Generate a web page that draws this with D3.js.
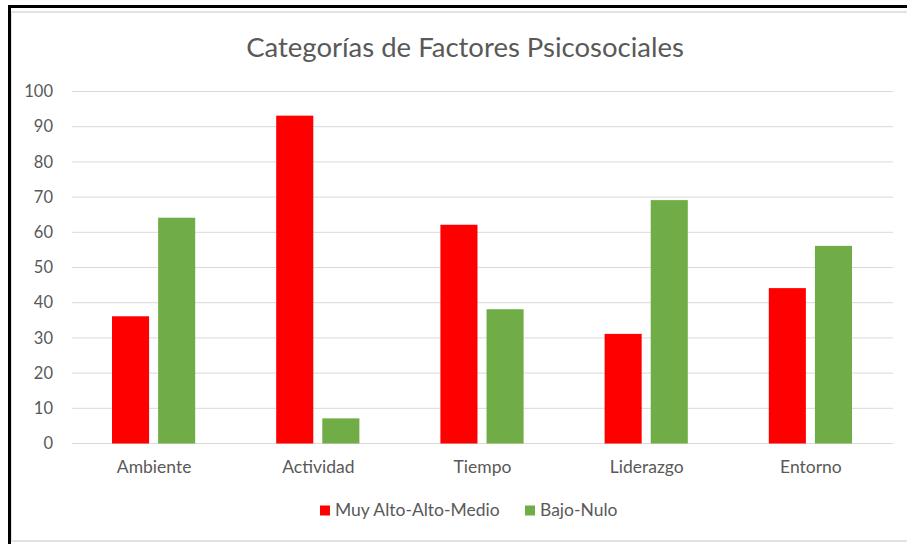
<!DOCTYPE html>
<html><head><meta charset="utf-8">
<script src="https://cdn.jsdelivr.net/npm/d3@7"></script>
<style>body{margin:0;background:#fff}svg{display:block}</style>
</head><body>
<svg id="c" width="907" height="544"></svg>
<script>
const categories = ["Ambiente","Actividad","Tiempo","Liderazgo","Entorno"];
const seriesNames = ["Muy Alto-Alto-Medio","Bajo-Nulo"];
const muyAlto = [36,93,62,31,44];
const bajoNulo = [64,7,38,69,56];
const yTicks = [0,10,20,30,40,50,60,70,80,90,100];
const colors = ["#FF0000","#70AD47"];
const title = "Categorías de Factores Psicosociales";

(function(){
const svg = d3.select("#c");
const font = "Lato, 'Open Sans', sans-serif";
const fs = 16.5, fs2 = 17.5;
// frame
svg.append("rect").attr("x",11).attr("y",12).attr("width",905).attr("height",529)
  .attr("fill","#fff").attr("stroke","#d9d9d9").attr("stroke-width",1.5);
svg.append("line").attr("x1",8).attr("x2",907).attr("y1",6.5).attr("y2",6.5).attr("stroke","#000").attr("stroke-width",3);
svg.append("line").attr("x1",9.5).attr("x2",9.5).attr("y1",5).attr("y2",544).attr("stroke","#000").attr("stroke-width",3);

const pLeft=72, pRight=893, pTop=91, pBottom=443;
const x = d3.scaleBand().domain(categories).range([pLeft,pRight]).paddingInner(0).paddingOuter(0);
const y = d3.scaleLinear().domain([0,100]).range([pBottom,pTop]);

// grid
svg.append("g").selectAll("line").data(yTicks).join("line")
  .attr("x1",pLeft).attr("x2",pRight).attr("y1",d=>y(d)+0.5).attr("y2",d=>y(d)+0.5)
  .attr("stroke","#d9d9d9").attr("stroke-width",1);

// y axis labels
const yAxis = d3.axisLeft(y).tickValues(yTicks).tickSize(0).tickPadding(0);
const gy = svg.append("g").attr("transform",`translate(53,0)`).call(yAxis);
gy.select(".domain").remove();
gy.selectAll("text").attr("font-family",font).attr("font-size",fs).attr("fill","#595959").attr("dy","0.35em");

// x axis labels
const xAxis = d3.axisBottom(x).tickSize(0).tickPadding(0);
const gx = svg.append("g").attr("transform",`translate(0,473)`).call(xAxis);
gx.select(".domain").remove();
gx.selectAll("text").attr("font-family",font).attr("font-size",fs2).attr("fill","#595959").attr("dy","0");

// bars
const x1 = d3.scaleBand().domain(seriesNames).range([40, x.bandwidth()-41]).paddingInner(0.196);
const series=[muyAlto,bajoNulo];
series.forEach((vals,si)=>{
  svg.append("g").selectAll("rect").data(vals).join("rect")
    .attr("x",(d,i)=>x(categories[i])+x1(seriesNames[si]))
    .attr("width",x1.bandwidth())
    .attr("y",d=>y(d)).attr("height",d=>pBottom-y(d)+0.5)
    .attr("fill",colors[si]);
});

// title
svg.append("text").attr("x",465).attr("y",57).attr("text-anchor","middle")
  .attr("font-family",font).attr("font-size",27.5).attr("fill","#595959").text(title);

// legend
const legendItems=[{n:seriesNames[0],c:colors[0],x:320},{n:seriesNames[1],c:colors[1],x:525}];
const lg = svg.append("g");
legendItems.forEach(it=>{
  lg.append("rect").attr("x",it.x).attr("y",505.5).attr("width",10).attr("height",10).attr("fill",it.c);
  lg.append("text").attr("x",it.x+15).attr("y",516).attr("font-family",font).attr("font-size",fs2).attr("fill","#595959").text(it.n);
});
})();
</script>
</body></html>
